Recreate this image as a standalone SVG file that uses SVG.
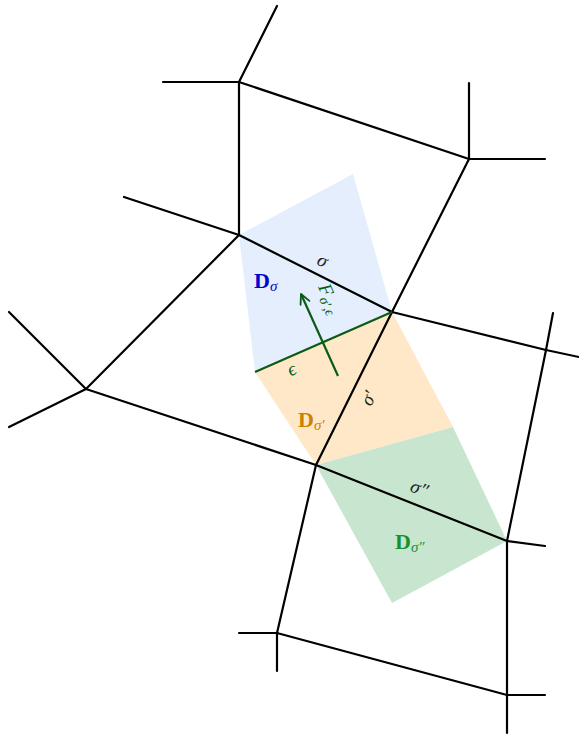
<svg xmlns="http://www.w3.org/2000/svg" width="579" height="735" viewBox="0 0 579 735">
<style>
.e{stroke:#000;stroke-width:2.2;fill:none;stroke-linecap:round}
.g{stroke:#0b5a17;stroke-width:2.2;fill:none}
.D{font-family:"Liberation Serif",serif;font-weight:bold;font-size:22px}
.s{font-family:"Liberation Serif",serif;font-style:italic;font-weight:normal}
.lbl{font-family:"Liberation Serif",serif;font-style:italic;font-size:19px;fill:#222}
</style>
<defs>
<marker id="ah" viewBox="0 0 10 10" refX="9" refY="5" markerWidth="5.5" markerHeight="5.5" orient="auto" markerUnits="strokeWidth">
<path d="M1,1 L9,5 L1,9" fill="none" stroke="#0b5a17" stroke-width="1.5" stroke-linecap="round" stroke-linejoin="round"/>
</marker>
</defs>
<rect width="579" height="735" fill="#fff"/>
<g id="regions">
<polygon id="D-sigma" points="239,235 353,174 392,312 255,372" fill="#e4eefd"/>
<polygon id="D-sigma1" points="255,372 392,312 453,427 316,465" fill="#fee8c8"/>
<polygon id="D-sigma2" points="316,465 453,427 507,541 392,603" fill="#c8e6cf"/>
</g>
<g id="connectors">
<path class="e" d="M239,82 L277,6 M239,82 L163,82 M239,82 L469,159 M239,82 L239,235"/>
<path class="e" d="M469,159 L469,83 M469,159 L545,159 M469,159 L392,312"/>
<path class="e" d="M239,235 L124,197 M239,235 L86,389 M239,235 L392,312"/>
<path class="e" d="M86,389 L9,312 M86,389 L9,427 M86,389 L316,465"/>
<path class="e" d="M392,312 L546,350 M392,312 L316,465"/>
<path class="e" d="M546,350 L553,313 M546,350 L579,357 M546,350 L507,541"/>
<path class="e" d="M507,541 L545,546 M507,541 L507,695"/>
<path class="e" d="M316,465 L507,541" stroke-width="2.8"/>
<path class="e" d="M316,465 L277,633"/>
<path class="e" d="M277,633 L239,633 M277,633 L277,671 M277,633 L507,695"/>
<path class="e" d="M507,695 L545,695 M507,695 L507,733"/>
<path class="g" d="M255,372 L392,312"/>
<path class="g" d="M338,376 L301,294" marker-end="url(#ah)"/>
</g>
<g id="labels">
<text class="D" x="254" y="288" fill="#0000cc">D<tspan class="s" font-size="15" dy="3">σ</tspan></text>
<text class="D" x="298" y="427" fill="#d08000">D<tspan class="s" font-size="15" dy="3">σ′</tspan></text>
<text class="D" x="395" y="549" fill="#16922a">D<tspan class="s" font-size="15" dy="3">σ″</tspan></text>
<text class="lbl" text-anchor="middle" transform="translate(320,266) rotate(27)">σ</text>
<text class="lbl" text-anchor="middle" transform="translate(374,401) rotate(-64)">σ′</text>
<text class="lbl" text-anchor="middle" transform="translate(417,494) rotate(22)">σ″</text>
<text class="lbl" text-anchor="middle" style="fill:#0b5a17" transform="translate(294,375) rotate(-24)">ϵ</text>
<text class="lbl" style="fill:#0b5a17" transform="translate(318,287) rotate(66)">F<tspan font-size="14" dy="4">σ′,ϵ</tspan></text>
</g>
</svg>
